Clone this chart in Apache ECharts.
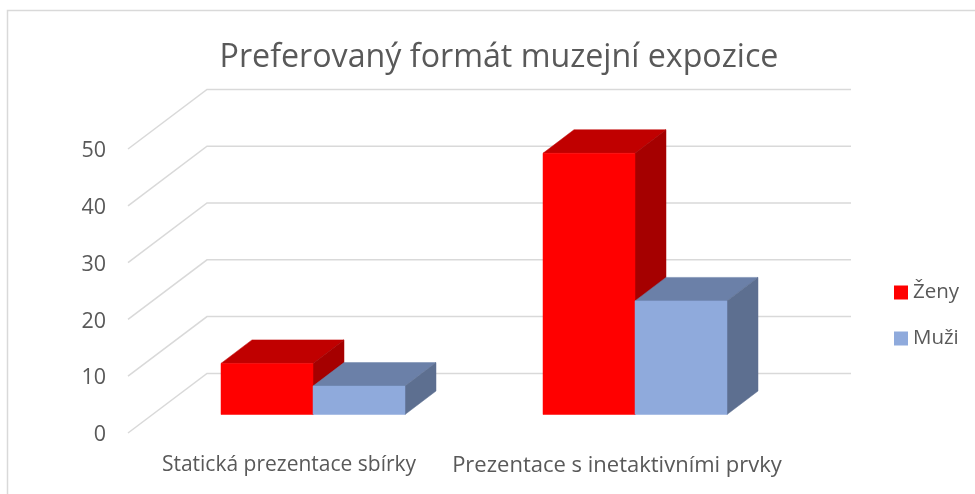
<!DOCTYPE html>
<html>
<head>
<meta charset="utf-8">
<style>html,body{margin:0;padding:0;background:#fff}#c{width:975px;height:494px}</style>
<script src="https://cdn.jsdelivr.net/npm/echarts@6/dist/echarts.min.js"></script>
</head>
<body>
<div id="c"></div>
<script>
const titleText = 'Preferovaný formát muzejní expozice';
const categories = ['Statická prezentace sbírky', 'Prezentace s inetaktivními prvky'];
const zeny = [9, 46];
const muzi = [5, 20];
const ticks = [0, 10, 20, 30, 40, 50];
const TEXT = '#595959', GRID = '#d9d9d9';
const FONT = '"Open Sans", "Noto Sans", sans-serif';
const wall = {dx: 79, dy: -59.6};
const depth = {dx: 31, dy: -23.5, frontX: 24, frontY: -18.5};
const barFrac = 92 / 322;

function barRender(side, front, top, sideCol) {
  return function (params, api) {
    const cat = api.value(0), val = api.value(1);
    const p = api.coord([cat, val]), b = api.coord([cat, 0]);
    const w = api.size([1, 0])[0] * barFrac;
    const x0 = b[0] + depth.frontX + (side < 0 ? -w : 0), x1 = x0 + w;
    const yB = b[1] + depth.frontY, yT = p[1] + depth.frontY;
    const d = depth;
    const poly = (pts, c) => ({type: 'polygon', shape: {points: pts}, style: {fill: c, stroke: c, lineWidth: 0.5}});
    return {type: 'group', children: [
      poly([[x0, yT], [x1, yT], [x1 + d.dx, yT + d.dy], [x0 + d.dx, yT + d.dy]], top),
      poly([[x1, yT], [x1 + d.dx, yT + d.dy], [x1 + d.dx, yB + d.dy], [x1, yB]], sideCol),
      poly([[x0, yT], [x1, yT], [x1, yB], [x0, yB]], front)
    ]};
  };
}
function gridRender(params, api) {
  const cs = params.coordSys;
  const y = api.coord([0, api.value(0)])[1];
  const x = cs.x;
  return {type: 'polyline', silent: true, shape: {points: [
    [x, y], [x + wall.dx, y + wall.dy], [x + cs.width + wall.dx, y + wall.dy]
  ]}, style: {fill: null, stroke: GRID, lineWidth: 1.5}};
}
const chart = echarts.init(document.getElementById('c'), null, {renderer: 'canvas'});
chart.setOption({
  animation: false,
  backgroundColor: '#fff',
  title: {text: titleText, left: 494, top: 37, textAlign: 'center',
    textStyle: {color: TEXT, fontFamily: FONT, fontSize: 32.2, fontWeight: 'normal'}},
  legend: {data: ['Ženy', 'Muži'], orient: 'vertical', left: 894, top: 282, padding: 0, itemWidth: 14, itemHeight: 14, itemGap: 25, icon: 'rect',
    textStyle: {color: TEXT, fontFamily: FONT, fontSize: 20.5}},
  grid: {left: 128, top: 149, width: 644, height: 284, containLabel: false},
  xAxis: {type: 'category', data: categories, axisLine: {show: false}, axisTick: {show: false},
    axisLabel: {color: TEXT, fontFamily: FONT, fontSize: 21, margin: 22, interval: 0,
      formatter: (v, i) => i === 1 ? '{b|' + v + '}' : v,
      rich: {b: {color: TEXT, fontFamily: FONT, fontSize: 22, padding: [0, 0, 0, 12]}}}},
  yAxis: {type: 'value', min: 0, max: 50, interval: 10, axisLine: {show: false}, axisTick: {show: false}, splitLine: {show: false},
    axisLabel: {color: TEXT, fontFamily: FONT, fontSize: 21.5, margin: 22,
      formatter: v => '{n|' + v + '}',
      rich: {n: {color: TEXT, fontFamily: FONT, fontSize: 21.5, padding: [4, 0, 0, 0]}}}},
  series: [
    {type: 'custom', name: 'grid', clip: false, z: 1, renderItem: gridRender, data: ticks.map(v => [v]), encode: {y: 0}, silent: true},
    {type: 'custom', name: 'Ženy', clip: false, z: 2, itemStyle: {color: '#ff0000'},
      renderItem: barRender(-1, '#ff0000', '#c00000', '#a50000'),
      data: zeny.map((v, i) => [i, v]), encode: {x: 0, y: 1}},
    {type: 'custom', name: 'Muži', clip: false, z: 3, itemStyle: {color: '#8faadc'},
      renderItem: barRender(1, '#8faadc', '#6b80a8', '#5d6f90'),
      data: muzi.map((v, i) => [i, v]), encode: {x: 0, y: 1}}
  ],
  graphic: [{type: 'polyline', silent: true, shape: {points: [[7.5, 494], [7.5, 10.5], [975, 10.5]]},
    style: {fill: null, stroke: GRID, lineWidth: 1.5}}]
});
</script>
</body>
</html>
